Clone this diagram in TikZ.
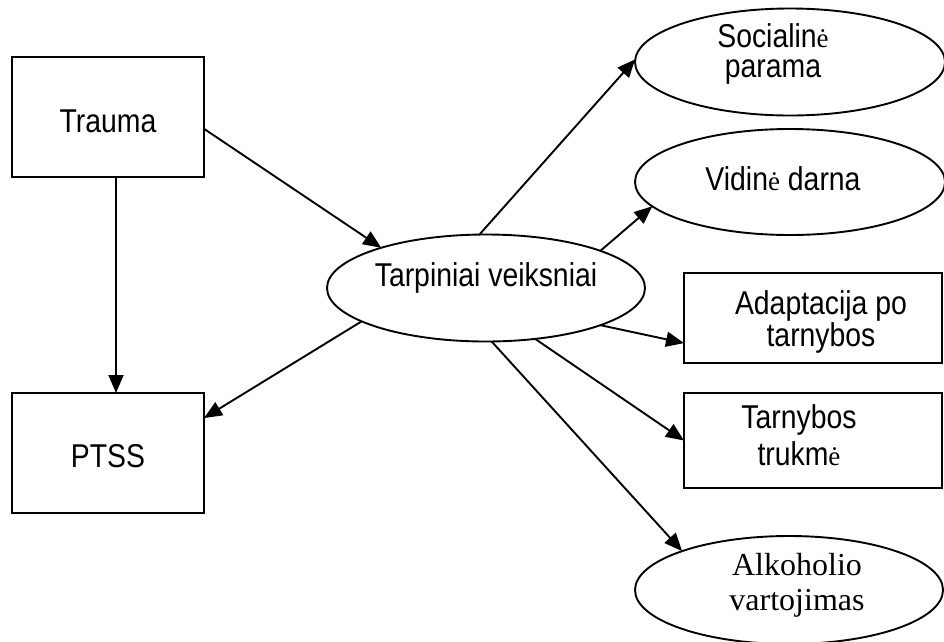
\documentclass[tikz,border=0pt]{standalone}
\usepackage{fontspec}
\setmainfont{Liberation Sans}[FakeStretch=0.86]
\newfontfamily\serifed{Liberation Serif}
\newcommand{\edot}{{\serifed\fontsize{27pt}{30pt}\selectfont ė}}
\usetikzlibrary{shapes.geometric,arrows.meta}
\tikzset{
  boxnode/.style={draw, line width=2pt, rectangle, inner sep=0pt, outer sep=0pt},
  ellnode/.style={draw, line width=1.9pt, ellipse, inner sep=0pt, outer sep=0pt},
  txt/.style={inner sep=0pt, anchor=base, align=center},
  conn/.style={line width=1.9pt, -{Triangle[length=18pt,width=15pt]}},
}
\begin{document}
\begin{tikzpicture}[x=1pt,y=-1pt]
\useasboundingbox (0,0) rectangle (944,641);
% shapes
\node[boxnode, minimum width=192pt, minimum height=120pt] (trauma) at (108,117) {};
\node[boxnode, minimum width=192pt, minimum height=120pt] (ptss) at (108,453) {};
\node[ellnode, minimum width=318pt, minimum height=107pt] (tar) at (486,288) {};
\node[ellnode, minimum width=310pt, minimum height=107pt] (soc) at (790,62) {};
\node[ellnode, minimum width=310pt, minimum height=106pt] (vid) at (790,182) {};
\node[boxnode, minimum width=258pt, minimum height=90pt] (adapt) at (813,318) {};
\node[boxnode, minimum width=258pt, minimum height=95pt] (tarn) at (813,440.5) {};
\node[ellnode, minimum width=308pt, minimum height=108pt] (alk) at (789,590) {};
% texts (base = baseline of last line)
\node[txt, font=\fontsize{33pt}{34pt}\selectfont] (traumaT) at (108,132) {Trauma};
\node[txt, font=\fontsize{33pt}{34pt}\selectfont] (ptssT) at (108,467) {PTSS};
\node[txt, font=\fontsize{33pt}{34pt}\selectfont] (tarT) at (486,286) {Tarpiniai veiksniai};
\node[txt, font=\fontsize{33pt}{30pt}\selectfont] (socT) at (773,77) {Socialin\edot\\parama};
\node[txt, font=\fontsize{33pt}{34pt}\selectfont] (vidT) at (783,190) {Vidin\edot{} darna};
\node[txt, font=\fontsize{33pt}{28pt}\selectfont] (adaptT) at (821,346) {Adaptacija po\\tarnybos};
\node[txt, font=\fontsize{33pt}{37pt}\selectfont] (tarnT) at (799,465) {Tarnybos\\trukm\edot};
\node[txt, font=\serifed\fontsize{32pt}{35pt}\selectfont] (alkT) at (797,610) {Alkoholio\\vartojimas};
% connectors
\draw[conn] (trauma.-7) -- (tar.159);
\draw[conn] ([xshift=8pt]trauma.south) -- ([xshift=8pt]ptss.north);
\draw[conn] (tar.195.5) -- (ptss.20.6);
\draw[conn] (tar.97.5) -- (soc.179);
\draw[conn] (tar.18.4) -- (vid.190.6);
\draw[conn] (tar.-18) -- (adapt.191.7);
\draw[conn] (tar.-46.6) -- (tarn.west);
\draw[conn] (tar.-84) -- (alk.160);
\end{tikzpicture}
\end{document}
